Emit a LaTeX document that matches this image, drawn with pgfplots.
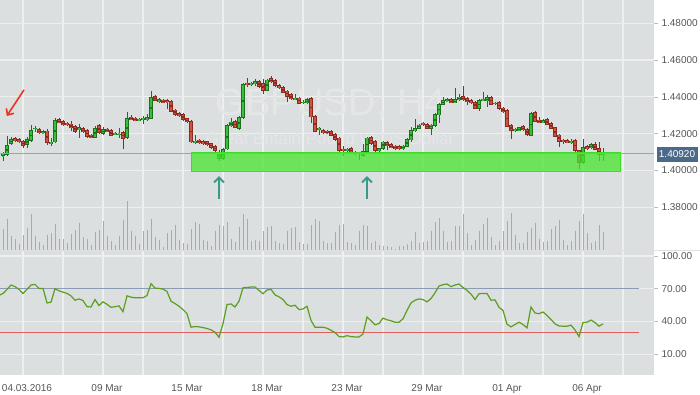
\documentclass[border=0pt]{standalone}
\usepackage{fontspec}
\setmainfont{Liberation Sans}
\usepackage{pgfplots}
\usepackage{pgfplotstable}
\pgfplotsset{compat=1.18}
\usetikzlibrary{arrows.meta}

\definecolor{bg}{HTML}{DCDFE0}
\definecolor{gridc}{HTML}{EEF0F0}
\definecolor{labc}{HTML}{555555}
\definecolor{tickc}{HTML}{B8BCBE}
\definecolor{rdark}{HTML}{8C2A1E}
\definecolor{rfill}{HTML}{CC5444}
\definecolor{gdark}{HTML}{1E6E1E}
\definecolor{gfill}{HTML}{36C236}
\definecolor{volc}{HTML}{7AB8DE}
\definecolor{rsic}{HTML}{5C9E1F}
\definecolor{ob}{HTML}{8B9BB4}
\definecolor{os}{HTML}{E06060}
\definecolor{boxg}{HTML}{47E62D}
\definecolor{boxd}{HTML}{3CDC28}
\definecolor{pline}{HTML}{8FA8C0}
\definecolor{pbox}{HTML}{4B6A8B}
\definecolor{arrred}{HTML}{EE3322}
\definecolor{arrteal}{HTML}{3A9A8A}
\definecolor{wm}{HTML}{E4E6E7}

\pgfplotstableread{
x o h l c
0 1.4077 1.4102 1.4052 1.4090
1 1.4085 1.4189 1.4079 1.4139
2 1.4143 1.4184 1.4139 1.4172
6 1.4139 1.4182 1.4124 1.4170
7 1.4161 1.4248 1.4155 1.4220
8 1.4224 1.4244 1.4211 1.4233
10 1.4202 1.4220 1.4199 1.4213
12 1.4146 1.4175 1.4135 1.4157
13 1.4153 1.4283 1.4150 1.4276
19 1.4222 1.4251 1.4175 1.4235
23 1.4179 1.4242 1.4174 1.4230
25 1.4199 1.4239 1.4191 1.4226
28 1.4193 1.4210 1.4191 1.4204
29 1.4193 1.4230 1.4175 1.4201
31 1.4175 1.4320 1.4172 1.4286
34 1.4271 1.4283 1.4267 1.4279
35 1.4276 1.4297 1.4253 1.4284
36 1.4273 1.4306 1.4269 1.4289
37 1.4282 1.4434 1.4278 1.4400
39 1.4371 1.4394 1.4367 1.4387
48 1.4150 1.4193 1.4143 1.4161
54 1.4061 1.4112 1.4054 1.4102
55 1.4061 1.4123 1.4057 1.4117
56 1.4115 1.4253 1.4112 1.4248
57 1.4242 1.4287 1.4237 1.4266
59 1.4228 1.4297 1.4220 1.4291
60 1.4284 1.4476 1.4280 1.4470
62 1.4467 1.4481 1.4460 1.4474
63 1.4469 1.4499 1.4462 1.4485
66 1.4434 1.4498 1.4430 1.4494
73 1.4384 1.4416 1.4381 1.4393
75 1.4366 1.4381 1.4362 1.4374
76 1.4366 1.4392 1.4362 1.4387
79 1.4220 1.4235 1.4192 1.4229
86 1.4106 1.4120 1.4103 1.4115
88 1.4091 1.4106 1.4087 1.4101
89 1.4090 1.4103 1.4057 1.4099
90 1.4081 1.4144 1.4076 1.4104
91 1.4102 1.4182 1.4098 1.4179
94 1.4106 1.4125 1.4103 1.4121
95 1.4119 1.4161 1.4114 1.4157
100 1.4119 1.4136 1.4114 1.4134
101 1.4128 1.4177 1.4125 1.4172
102 1.4164 1.4237 1.4157 1.4220
103 1.4215 1.4280 1.4210 1.4231
104 1.4228 1.4253 1.4223 1.4249
107 1.4228 1.4253 1.4193 1.4249
108 1.4244 1.4310 1.4239 1.4306
109 1.4300 1.4367 1.4260 1.4362
110 1.4358 1.4401 1.4354 1.4384
111 1.4376 1.4394 1.4373 1.4387
113 1.4369 1.4449 1.4365 1.4387
114 1.4385 1.4416 1.4380 1.4401
119 1.4335 1.4389 1.4325 1.4384
120 1.4380 1.4427 1.4375 1.4389
121 1.4376 1.4408 1.4347 1.4401
123 1.4360 1.4375 1.4356 1.4369
128 1.4215 1.4231 1.4210 1.4228
129 1.4217 1.4239 1.4212 1.4235
132 1.4189 1.4316 1.4185 1.4311
135 1.4260 1.4278 1.4256 1.4273
142 1.4151 1.4170 1.4144 1.4162
145 1.4043 1.4170 1.4038 1.4126
147 1.4121 1.4147 1.4117 1.4143
150 1.4083 1.4120 1.4054 1.4092
}\upc

\pgfplotstableread{
x o h l c
3 1.4175 1.4181 1.4153 1.4161
4 1.4170 1.4174 1.4150 1.4155
5 1.4161 1.4166 1.4124 1.4134
9 1.4224 1.4231 1.4196 1.4202
11 1.4217 1.4223 1.4139 1.4148
14 1.4280 1.4286 1.4256 1.4260
15 1.4269 1.4275 1.4242 1.4248
16 1.4257 1.4261 1.4242 1.4246
17 1.4255 1.4269 1.4217 1.4230
18 1.4242 1.4248 1.4204 1.4211
20 1.4231 1.4237 1.4204 1.4210
21 1.4219 1.4223 1.4177 1.4182
22 1.4195 1.4201 1.4174 1.4179
24 1.4246 1.4253 1.4199 1.4204
26 1.4228 1.4231 1.4207 1.4211
27 1.4219 1.4223 1.4185 1.4189
30 1.4210 1.4215 1.4117 1.4172
32 1.4293 1.4299 1.4272 1.4276
33 1.4287 1.4291 1.4267 1.4271
38 1.4404 1.4408 1.4375 1.4380
40 1.4384 1.4386 1.4365 1.4369
41 1.4381 1.4386 1.4335 1.4370
42 1.4378 1.4384 1.4316 1.4320
43 1.4331 1.4337 1.4297 1.4302
44 1.4313 1.4318 1.4291 1.4297
45 1.4306 1.4310 1.4269 1.4275
46 1.4284 1.4288 1.4258 1.4262
47 1.4269 1.4275 1.4150 1.4153
49 1.4168 1.4172 1.4144 1.4150
50 1.4161 1.4166 1.4139 1.4143
51 1.4159 1.4163 1.4131 1.4136
52 1.4147 1.4152 1.4117 1.4123
53 1.4131 1.4136 1.4101 1.4106
58 1.4269 1.4275 1.4229 1.4233
61 1.4478 1.4501 1.4452 1.4465
64 1.4485 1.4490 1.4451 1.4456
65 1.4474 1.4496 1.4416 1.4434
67 1.4501 1.4514 1.4476 1.4480
68 1.4492 1.4498 1.4454 1.4460
69 1.4463 1.4468 1.4443 1.4447
70 1.4452 1.4457 1.4419 1.4423
71 1.4434 1.4438 1.4374 1.4401
72 1.4414 1.4419 1.4384 1.4387
74 1.4396 1.4400 1.4359 1.4363
77 1.4394 1.4400 1.4257 1.4289
78 1.4297 1.4302 1.4207 1.4211
80 1.4219 1.4223 1.4196 1.4206
81 1.4215 1.4218 1.4199 1.4202
82 1.4213 1.4218 1.4185 1.4189
83 1.4199 1.4204 1.4161 1.4166
84 1.4179 1.4182 1.4103 1.4108
85 1.4117 1.4134 1.4081 1.4109
87 1.4123 1.4125 1.4095 1.4099
92 1.4182 1.4188 1.4139 1.4144
93 1.4162 1.4166 1.4103 1.4106
96 1.4155 1.4161 1.4112 1.4134
97 1.4144 1.4147 1.4120 1.4124
98 1.4135 1.4139 1.4114 1.4119
99 1.4134 1.4138 1.4114 1.4117
105 1.4260 1.4264 1.4242 1.4246
106 1.4253 1.4256 1.4223 1.4228
112 1.4387 1.4392 1.4365 1.4369
115 1.4405 1.4460 1.4378 1.4384
116 1.4393 1.4397 1.4358 1.4373
117 1.4384 1.4389 1.4362 1.4366
118 1.4373 1.4378 1.4332 1.4336
122 1.4401 1.4405 1.4354 1.4358
124 1.4373 1.4378 1.4329 1.4333
125 1.4342 1.4345 1.4313 1.4318
126 1.4329 1.4335 1.4234 1.4238
127 1.4246 1.4250 1.4172 1.4217
130 1.4240 1.4245 1.4215 1.4219
131 1.4226 1.4229 1.4188 1.4192
133 1.4317 1.4321 1.4261 1.4266
134 1.4276 1.4291 1.4256 1.4260
136 1.4279 1.4283 1.4245 1.4249
137 1.4257 1.4261 1.4223 1.4228
138 1.4235 1.4239 1.4180 1.4182
139 1.4195 1.4199 1.4130 1.4157
140 1.4164 1.4169 1.4144 1.4157
141 1.4164 1.4169 1.4147 1.4151
143 1.4164 1.4169 1.4103 1.4108
144 1.4109 1.4113 1.4007 1.4043
146 1.4134 1.4136 1.4114 1.4117
148 1.4144 1.4157 1.4109 1.4112
149 1.4121 1.4155 1.4052 1.4083
}\downc

\pgfplotstableread{
x v
0 21
1 31
2 14
3 11
4 6
5 15
6 22
7 36
8 14
9 8
10 5
11 15
12 17
13 26
14 11
15 11
16 7
17 16
18 20
19 27
20 13
21 11
22 5
23 18
24 20
25 29
26 14
27 9
28 5
29 14
30 30
31 49
32 19
33 14
34 6
35 19
36 20
37 31
38 13
39 10
40 3
41 17
42 20
43 25
44 10
45 7
46 6
47 21
48 28
49 26
50 10
51 9
52 4
53 19
54 25
55 24
56 28
57 11
58 8
59 23
60 36
61 31
62 9
63 10
64 9
65 19
66 23
67 24
68 9
69 7
70 6
71 19
72 22
73 23
74 8
75 6
76 6
77 25
78 31
79 29
80 9
81 7
82 7
83 18
84 25
85 26
86 8
87 7
88 5
89 19
90 25
91 24
92 7
93 9
94 5
95 4
96 4
97 3
98 1
99 4
100 4
101 6
102 9
103 18
104 7
105 8
106 9
107 19
108 28
109 32
110 19
111 8
112 9
113 24
114 24
115 36
116 17
117 5
118 10
119 19
120 26
121 32
122 13
123 5
124 9
125 19
126 29
127 37
128 15
129 7
130 7
131 18
132 22
133 27
134 11
135 8
136 9
137 21
138 24
139 30
140 10
141 5
142 9
143 19
144 29
145 36
146 17
147 7
148 9
149 25
150 18
}\vol

\pgfplotstableread{
x r
-1 63.9
0 65.7
1 69.4
2 73.4
3 71.9
4 69.4
5 65.7
6 69.4
7 73.4
8 74.0
9 70.3
10 70.3
11 57.0
12 57.7
13 70.0
14 68.1
15 66.9
16 65.7
17 63.5
18 59.5
19 60.7
20 59.2
21 53.6
22 53.3
23 60.1
24 54.6
25 58.0
26 55.8
27 53.0
28 53.6
29 54.3
30 49.0
31 63.5
32 62.3
33 61.7
34 61.7
35 61.7
36 63.8
37 74.6
38 70.6
39 70.3
40 69.7
41 67.5
42 58.6
43 56.4
44 54.0
45 50.9
46 47.2
47 34.8
48 35.4
49 35.1
50 34.5
51 33.6
52 32.4
53 30.2
54 25.6
55 38.0
56 55.5
57 56.1
58 53.3
59 58.6
60 70.9
61 71.2
62 71.5
63 71.5
64 68.5
65 65.4
66 68.8
67 69.4
68 64.4
69 62.6
70 60.1
71 55.5
72 54.0
73 54.9
74 50.9
75 51.5
76 54.0
77 41.0
78 34.8
79 34.8
80 34.8
81 33.9
82 32.0
83 29.9
84 26.2
85 25.9
86 27.1
87 26.2
88 25.9
89 25.9
90 28.6
91 44.1
92 40.7
93 37.0
94 38.2
95 43.1
96 41.6
97 40.7
98 39.4
99 39.4
100 42.5
101 50.2
102 57.0
103 59.5
104 60.7
105 60.1
106 58.0
107 61.0
108 66.3
109 72.5
110 73.7
111 74.3
112 71.9
113 73.4
114 74.3
115 71.2
116 68.5
117 65.1
118 60.1
119 65.4
120 65.7
121 65.7
122 59.5
123 59.8
124 53.0
125 50.2
126 37.6
127 35.1
128 37.3
129 39.4
130 37.3
131 34.2
132 53.3
133 47.8
134 47.2
135 48.7
136 45.6
137 41.9
138 37.9
139 36.0
140 35.7
141 35.7
142 36.7
143 32.3
144 26.2
145 39.1
146 39.4
147 41.3
148 39.1
149 35.7
150 37.9
}\rsi

\pgfplotsset{
  common/.style={
    anchor=south west, scale only axis, width=654pt,
    xmin=-0.75, xmax=162.75,
    /pgf/number format/assume math mode=true,
  },
  panel/.style={
    common,
    axis background/.style={fill=bg},
    axis line style={draw=none},
    xtick={5,15,...,155}, xmajorgrids,
    xtick style={draw=none},
    ymajorgrids,
    grid style={gridc, line width=1.2pt},
    ytick pos=right, yticklabel pos=right,
    ytick style={tickc, line width=0.6pt},
    major tick length=4pt, tick align=outside,
    yticklabel style={font=\fontsize{10}{12}\selectfont, text=labc, anchor=west},
    xticklabel style={font=\fontsize{10}{12}\selectfont, text=labc, xshift=4pt, yshift=-2pt},
  },
  candle/.style n args={3}{draw=none, mark=none, forget plot,
    error bars/.cd, y dir=both, y explicit, error mark=none,
    error bar style={draw=#1, line width=#2, #3}},
}

\begin{document}
\begin{tikzpicture}
\useasboundingbox (0pt,0pt) rectangle (700pt,394pt);
\fill[white] (0pt,0pt) rectangle (700pt,394pt);

% price panel: background and grid
\begin{axis}[panel, at={(0pt,144pt)}, height=250pt,
  ymin=1.35679, ymax=1.49266, xticklabels={},
  ytick={1.38,1.40,1.42,1.44,1.46,1.48},
  yticklabels={1.38000,1.40000,1.42000,1.44000,1.46000,1.48000}]
\end{axis}

% watermark
\node[text=wm, font=\fontsize{38}{40}\selectfont] at (331pt,289pt) {GBPUSD, H4};
\node[text=wm, font=\fontsize{17}{19}\selectfont] at (330pt,256pt) {Great Britain Pound vs US Dollar};

% volume
\begin{axis}[common, at={(0pt,144pt)}, height=250pt, ymin=0, ymax=250, hide axis]
\addplot[ycomb, draw=volc, line width=1pt, mark=none] table[x=x, y=v] {\vol};
\end{axis}

% candles
\begin{axis}[common, at={(0pt,144pt)}, height=250pt, ymin=1.35679, ymax=1.49266, hide axis]
\addplot[candle={gdark}{0.8pt}{}] table[x=x, y expr={(\thisrow{h}+\thisrow{l})/2}, y error expr={(\thisrow{h}-\thisrow{l})/2}] {\upc};
\addplot[candle={rdark}{0.8pt}{}] table[x=x, y expr={(\thisrow{h}+\thisrow{l})/2}, y error expr={(\thisrow{h}-\thisrow{l})/2}] {\downc};
\addplot[candle={gdark}{3.4pt}{}] table[x=x, y expr={(\thisrow{o}+\thisrow{c})/2}, y error expr={abs(\thisrow{o}-\thisrow{c})/2}] {\upc};
\addplot[candle={rdark}{3.4pt}{}] table[x=x, y expr={(\thisrow{o}+\thisrow{c})/2}, y error expr={abs(\thisrow{o}-\thisrow{c})/2}] {\downc};
\addplot[candle={gfill}{1.6pt}{shorten <=0.8pt, shorten >=0.8pt}] table[x=x, y expr={(\thisrow{o}+\thisrow{c})/2}, y error expr={abs(\thisrow{o}-\thisrow{c})/2}] {\upc};
\addplot[candle={rfill}{1.6pt}{shorten <=0.8pt, shorten >=0.8pt}] table[x=x, y expr={(\thisrow{o}+\thisrow{c})/2}, y error expr={abs(\thisrow{o}-\thisrow{c})/2}] {\downc};
% support zone
\addplot[fill=boxg, draw=boxd, fill opacity=0.75, line width=0.8pt] coordinates {(47,1.4100) (154.25,1.4100) (154.25,1.3997) (47,1.3997) (47,1.4100)};
% current price line
\addplot[pline, line width=0.8pt] coordinates {(-0.75,1.4092) (162.75,1.4092)};
% arrows
\addplot[arrred, line width=1.6pt, -{Straight Barb[length=5pt,width=9pt]}] coordinates {(5.25,1.4438) (0.95,1.4296)};
\addplot[arrteal, line width=2pt, -{Straight Barb[length=5pt,width=10pt]}] coordinates {(54,1.3845) (54,1.3970)};
\addplot[arrteal, line width=2pt, -{Straight Barb[length=5pt,width=10pt]}] coordinates {(91,1.3845) (91,1.3970)};
\end{axis}

\node[fill=pbox, text=white, font=\fontsize{10}{12}\selectfont, minimum width=41pt, minimum height=15pt, inner sep=0pt] at (677pt,239.5pt) {1.40920};
\draw[gray!25, line width=0.6pt] (0pt,143.5pt) -- (700pt,143.5pt);

% RSI panel
\begin{axis}[panel, at={(0pt,19pt)}, height=124pt,
  ymin=-8.9, ymax=104.5,
  xticklabels={04.03.2016,,09 Mar,,15 Mar,,18 Mar,,23 Mar,,29 Mar,,01 Apr,,06 Apr,},
  ytick={10,40,70,100},
  yticklabels={10.00,40.00,70.00,100.00}]
\addplot[ob, line width=1pt] coordinates {(-0.75,70) (159,70)};
\addplot[os, line width=1pt] coordinates {(-0.75,30) (159,30)};
\addplot[rsic, line width=1.2pt, mark=none] table[x=x, y=r] {\rsi};
\end{axis}
\end{tikzpicture}
\end{document}
